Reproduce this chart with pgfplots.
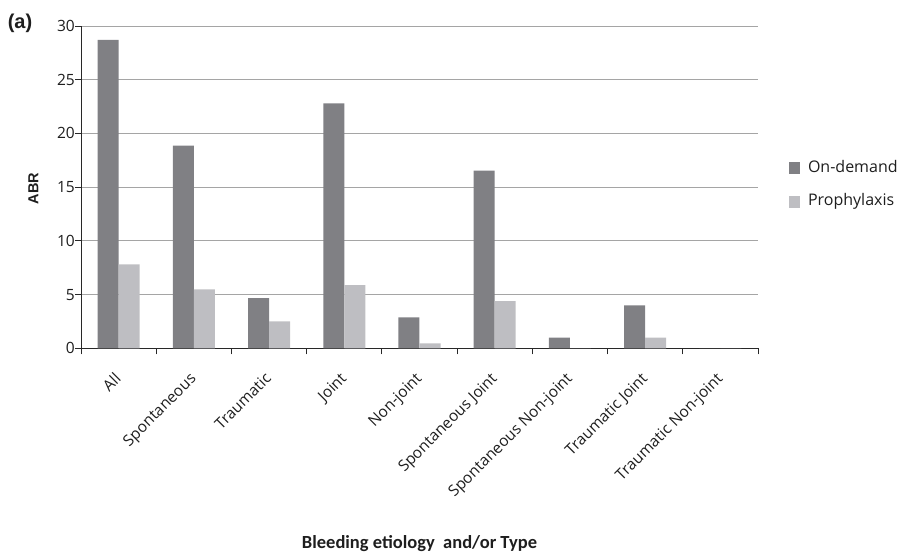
\documentclass[border=0pt]{standalone}
\usepackage{fontspec}
\setmainfont{Open Sans}
\newfontfamily\arialfont{Liberation Sans}
\newfontfamily\carlitofont{Carlito}
\usepackage{pgfplots}
\pgfplotsset{compat=1.18}
\definecolor{ondemand}{RGB}{128,128,132}
\definecolor{prophy}{RGB}{190,190,194}
\definecolor{gridgray}{RGB}{165,165,165}
\definecolor{axisgray}{RGB}{40,40,40}
\definecolor{textgray}{RGB}{30,30,30}
\begin{document}
\begin{tikzpicture}
\path[use as bounding box] (-81bp,-203.7bp) rectangle (821bp,348.3bp);
\begin{axis}[
  at={(0,0)}, anchor=south west,
  scale only axis, width=677bp, height=322.3bp,
  xmin=-0.5, xmax=8.5, ymin=0, ymax=30,
  enlargelimits=false,
  axis x line*=bottom, axis y line*=left,
  axis line style={axisgray, line width=0.9bp},
  tick align=outside, major tick length=6bp,
  tick style={axisgray, line width=0.9bp},
  xtick={-0.5,0.5,...,8.5},
  x tick label as interval,
  xticklabels={All,Spontaneous,Traumatic,Joint,Non-joint,Spontaneous Joint,Spontaneous Non-joint,Traumatic Joint,Traumatic Non-joint},
  xticklabel style={font=\fontsize{15.5bp}{17bp}\selectfont, text=textgray, xshift=-5bp, yshift=-17bp, rotate=45, anchor=north east, inner sep=0pt},
  ytick={0,5,...,30},
  yticklabel style={font=\fontsize{15.5bp}{17bp}\selectfont, text=textgray, anchor=east, inner sep=0pt, /pgf/number format/assume math mode=true},
  ymajorgrids, major grid style={gridgray, line width=0.9bp},
  ybar=0pt, bar width=21bp,
  xlabel={Bleeding etiology\ \ and/or Type},
  xlabel style={at={(axis description cs:0.5,-0.6227)}, anchor=base, font=\carlitofont\bfseries\fontsize{18.5bp}{20bp}\selectfont, text=textgray},
  ylabel={ABR},
  ylabel style={at={(axis description cs:-0.0702,0.4958)}, anchor=center, font=\arialfont\bfseries\fontsize{14.5bp}{16bp}\selectfont, text=textgray},
  legend cell align=left,
  legend style={at={(1.0458,0.5067)}, anchor=west, draw=none, fill=none, inner sep=0pt, outer sep=0pt,
    font=\fontsize{16bp}{17bp}\selectfont, text=textgray, row sep=19.5bp, column sep=8bp,
    nodes={inner sep=0pt, text height=11bp, text depth=3bp}},
  legend image code/.code={\fill[#1] (0bp,-6bp) rectangle (11bp,6bp);},
]
\addplot[fill=ondemand, draw=none] coordinates {(0,28.7) (1,18.86) (2,4.68) (3,22.8) (4,2.89) (5,16.53) (6,0.99) (7,4.0) (8,0)};
\addplot[fill=prophy, draw=none] coordinates {(0,7.82) (1,5.49) (2,2.51) (3,5.89) (4,0.47) (5,4.40) (6,0) (7,0.99) (8,0)};
\legend{On-demand, Prophylaxis}
\end{axis}
\node[font=\arialfont\bfseries\fontsize{20bp}{22bp}\selectfont, text=textgray] at (-61bp,325.3bp) {(a)};
\end{tikzpicture}
\end{document}
